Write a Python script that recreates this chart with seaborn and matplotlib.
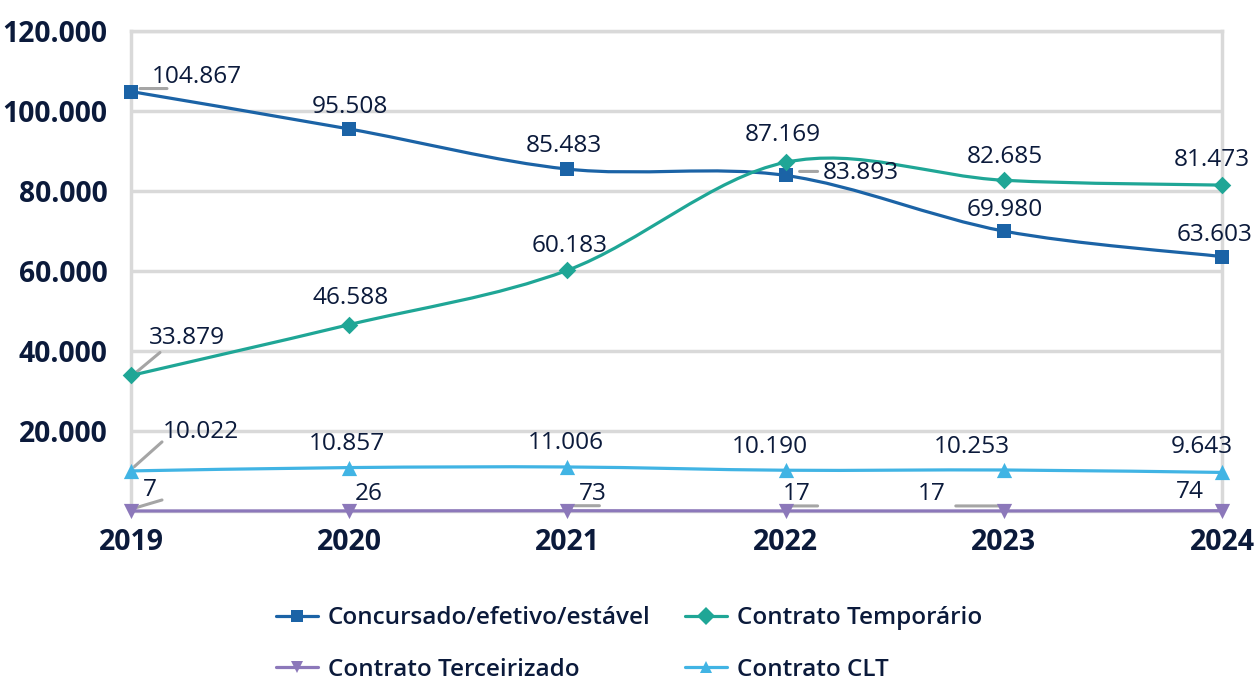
import numpy as np
import pandas as pd
import matplotlib
matplotlib.use("Agg")
import matplotlib.pyplot as plt
from matplotlib.path import Path
from matplotlib.patches import PathPatch
from matplotlib.lines import Line2D
from matplotlib.transforms import offset_copy
import seaborn as sns

# dados
anos = [2019, 2020, 2021, 2022, 2023, 2024]
concursado = [104867, 95508, 85483, 83893, 69980, 63603]
temporario = [33879, 46588, 60183, 87169, 82685, 81473]
terceirizado = [7, 26, 73, 17, 17, 74]
clt = [10022, 10857, 11006, 10190, 10253, 9643]

series = ["Concursado/efetivo/estável", "Contrato Temporário",
          "Contrato Terceirizado", "Contrato CLT"]
valores = [concursado, temporario, terceirizado, clt]
cores = ["#1b63a6", "#1fa696", "#8c78ba", "#41b4e4"]
marcadores = ["s", "D", "v", "^"]
tam_marc = [110, 80, 120, 120]

# posicao dos rotulos (px, relativo ao marcador) e linhas-guia
rot_off = [
    [(66, 15), (1, 22), (-4, 23), (75, 2), (1, 21), (-7, 22)],
    [(56, 37), (1, 27), (2, 24), (-3, 27), (1, 23), (-10, 25)],
    [(19, 21), (19, 17), (25, 17), (11, 17), (-72, 17), (-32, 19)],
    [(70, 39), (-2, 24), (-2, 24), (-16, 23), (-32, 23), (-20, 25)],
]
guias = [
    (0, 0, (9, 3), (36, 3)),
    (0, 3, (14, 4), (32, 4)),
    (1, 0, (5, 3), (29, 23)),
    (3, 0, (3, 4), (31, 29)),
    (2, 0, (4, 3), (31, 11)),
    (2, 2, (7, 5), (32, 5)),
    (2, 3, (6, 5), (32, 5)),
    (2, 4, (-48, 5), (0, 5)),
]

sns.set_theme(style="white")
plt.rcParams["font.family"] = ["Open Sans", "DejaVu Sans"]
txt = "#0b1a3b"
cinza = "#d9d9d9"

fig = plt.figure(figsize=(12.58, 6.84), dpi=100)
ax = fig.add_axes([131 / 1258, 1 - 511 / 684, (1222 - 131) / 1258, (511 - 31) / 684])


def curva(xs, ys):
    # linha suavizada estilo Excel (Bezier tipo Catmull-Rom)
    p = np.column_stack([xs, ys]).astype(float)
    verts = [p[0]]
    codes = [Path.MOVETO]
    n = len(p)
    for i in range(n - 1):
        p0 = p[i - 1] if i > 0 else p[i]
        p3 = p[i + 2] if i + 2 < n else p[i + 1]
        c1 = p[i] + (p[i + 1] - p0) / 6
        c2 = p[i + 1] - (p3 - p[i]) / 6
        verts += [c1, c2, p[i + 1]]
        codes += [Path.CURVE4] * 3
    return Path(verts, codes)


df = pd.DataFrame({
    "ano": anos * 4,
    "valor": sum(valores, []),
    "serie": np.repeat(series, len(anos)),
})

for k, (s, v, c) in enumerate(zip(series, valores, cores)):
    ax.add_patch(PathPatch(curva(anos, v), fill=False, edgecolor=c, lw=2.3,
                           zorder=3, clip_on=False, capstyle="round"))
    sub = df[df.serie == s]
    sns.scatterplot(data=sub, x="ano", y="valor", marker=marcadores[k], color=c,
                    s=tam_marc[k], linewidth=0, ax=ax, zorder=4, clip_on=False,
                    legend=False)

for si, i, a, b in guias:
    tr = offset_copy(ax.transData, fig=fig, x=a[0], y=a[1], units="dots")
    ax.annotate("", xy=(anos[i], valores[si][i]), xycoords=tr,
                xytext=(b[0] - a[0], b[1] - a[1]), textcoords="offset pixels",
                arrowprops=dict(arrowstyle="-", color="#a5a5a5", lw=2.2,
                                shrinkA=0, shrinkB=0), zorder=2)


def fmt(v):
    return f"{v:,}".replace(",", ".")


for si, v in enumerate(valores):
    for i, a in enumerate(anos):
        ax.annotate(fmt(v[i]), xy=(a, v[i]), xytext=rot_off[si][i],
                    textcoords="offset pixels", ha="center", va="center",
                    fontsize=17.6, color=txt, zorder=5, annotation_clip=False)

ax.set_xlim(2019, 2024)
ax.set_ylim(0, 120000)
ax.set_yticks([20000, 40000, 60000, 80000, 100000, 120000])
ax.set_yticklabels([fmt(t) for t in ax.get_yticks()])
ax.set_xticks(anos)
ax.set_xticklabels([str(a) for a in anos])
ax.yaxis.grid(True, color=cinza, lw=2.5)
ax.set_axisbelow(True)
for sp in ax.spines.values():
    sp.set_color(cinza)
    sp.set_linewidth(2.5)
ax.tick_params(axis="y", length=5, width=2.5, color=cinza, pad=12,
               labelsize=20.3, labelcolor=txt)
ax.tick_params(axis="x", length=0, pad=12, labelsize=20.5, labelcolor=txt)
for lb in ax.get_xticklabels() + ax.get_yticklabels():
    lb.set_fontweight("bold")
ax.set_xlabel("")
ax.set_ylabel("")

handles = [Line2D([0], [0], color=c, lw=2.3, marker=m, markersize=9,
                  markeredgewidth=0) for c, m in zip(cores, marcadores)]
ordem = [0, 2, 1, 3]
leg = fig.legend([handles[i] for i in ordem], [series[i] for i in ordem],
                 ncol=2, loc="center", bbox_to_anchor=(0.5, 1 - 644 / 684),
                 frameon=False, fontsize=17.5, handlelength=1.75,
                 handletextpad=0.4, columnspacing=1.4, labelspacing=1.15)
for t in leg.get_texts():
    t.set_color(txt)
    t.set_fontweight("semibold")

fig.savefig("out.png", dpi=100)
